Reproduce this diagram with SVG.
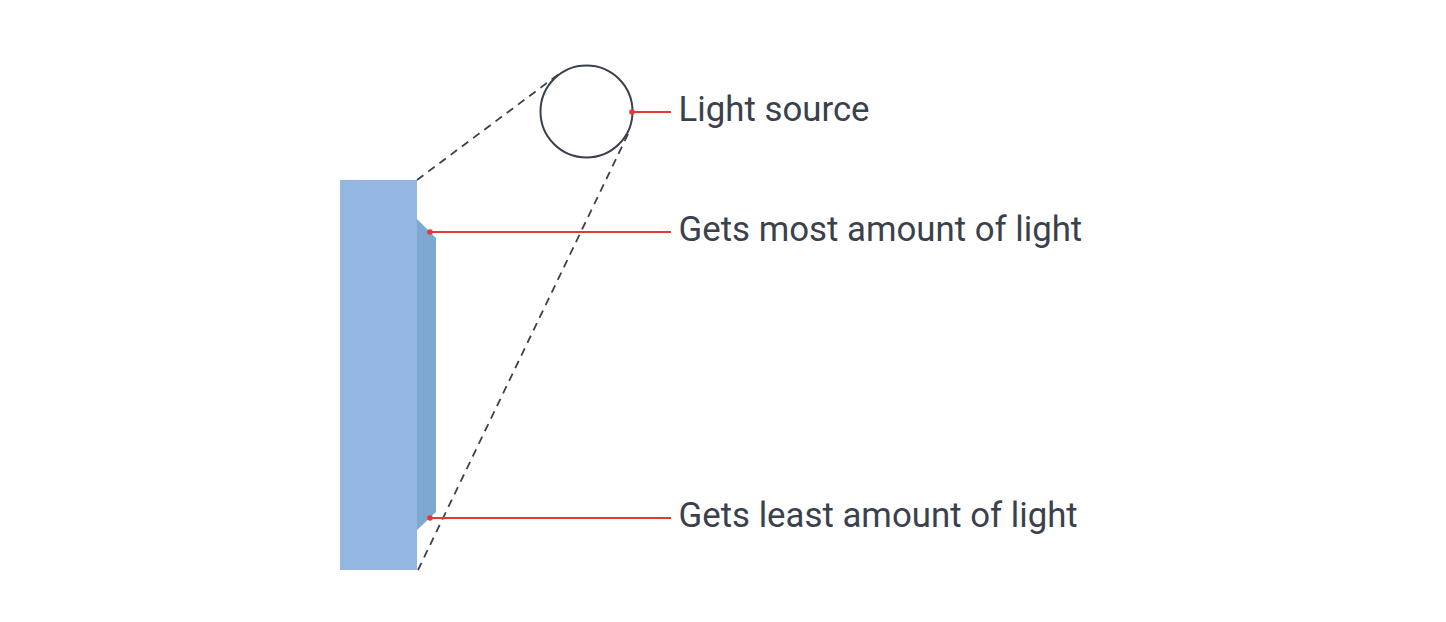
<svg xmlns="http://www.w3.org/2000/svg" width="1446" height="622" viewBox="0 0 1446 622">
<style>
.lbl{font-family:Roboto,"Liberation Sans",sans-serif;font-size:34.8px;fill:#3b414c}
.dash{stroke:#3b414c;stroke-width:1.8;stroke-dasharray:8 6;fill:none}
.lead{stroke:#e53935;stroke-width:1.8;fill:none}
.dot{fill:#e53935}
</style>
<rect width="1446" height="622" fill="#ffffff"/>
<g id="object">
<rect x="340" y="180" width="77" height="390" fill="#93b7e0"/>
<polygon points="417,219 436,238 436,512 417,530" fill="#7ea7d1"/>
</g>
<g id="light-source">
<circle cx="586.5" cy="111.5" r="46" fill="none" stroke="#3b414c" stroke-width="2"/>
</g>
<g id="connectors">
<line class="dash" x1="417" y1="180" x2="559" y2="74"/>
<line class="dash" x1="418" y1="570" x2="629" y2="132"/>
<line class="lead" x1="632" y1="112" x2="671" y2="112"/>
<circle class="dot" cx="632" cy="112" r="2.8"/>
<line class="lead" x1="430" y1="232" x2="671" y2="232"/>
<circle class="dot" cx="430" cy="232" r="2.8"/>
<line class="lead" x1="430" y1="518" x2="671" y2="518"/>
<circle class="dot" cx="430" cy="518" r="2.8"/>
</g>
<g id="labels">
<text class="lbl" x="678.5" y="121">Light source</text>
<text class="lbl" x="678.5" y="241">Gets most amount of light</text>
<text class="lbl" x="678.5" y="527">Gets least amount of light</text>
</g>
</svg>
